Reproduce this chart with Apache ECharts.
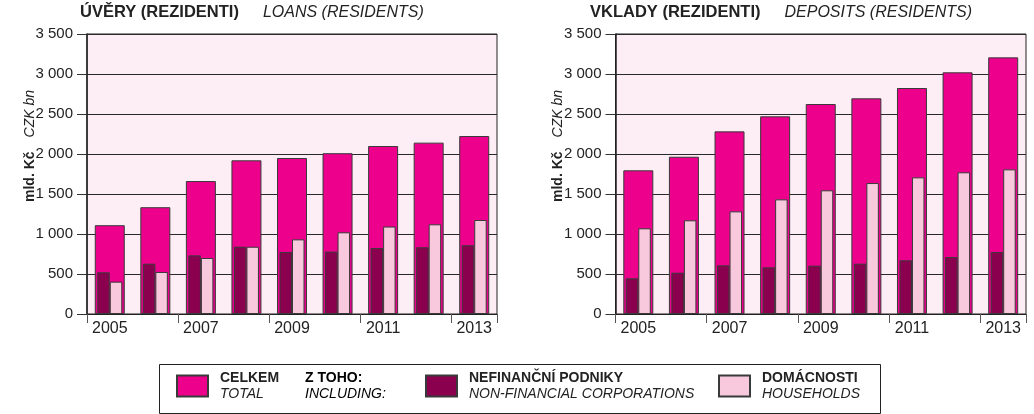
<!DOCTYPE html>
<html>
<head>
<meta charset="utf-8">
<script src="https://cdn.jsdelivr.net/npm/echarts@6/dist/echarts.min.js"></script>
<style>
html,body{margin:0;padding:0;background:#fff;}
#c{width:1034px;height:414px;}
</style>
</head>
<body>
<div id="c"></div>
<script>
const years = ['2005','2006','2007','2008','2009','2010','2011','2012','2013'];
const yTicks = [0, 500, 1000, 1500, 2000, 2500, 3000, 3500];

const loanTotal  = [1110, 1335, 1662, 1921, 1950, 2010, 2100, 2142, 2225];
const loanNonfin = [521, 629, 733, 841, 775, 780, 825, 834, 859];
const loanHouse  = [404, 525, 700, 841, 933, 1021, 1093, 1121, 1175];

const depTotal   = [1796, 1966, 2283, 2471, 2625, 2696, 2825, 3021, 3208];
const depNonfin  = [446, 516, 608, 583, 604, 629, 671, 712, 775];
const depHouse   = [1071, 1171, 1283, 1433, 1546, 1637, 1708, 1771, 1808];

const FONT = '"Liberation Sans", Arial, Helvetica, sans-serif';
const C_TOTAL = '#EC008C', C_NONFIN = '#8A004E', C_HOUSE = '#F8C8DC';
const BORDER = '#3a3a3a';
const names = { total: 'Celkem', nonfin: 'Nefinanční podniky', house: 'Domácnosti' };

const chart = echarts.init(document.getElementById('c'), null, {renderer: 'canvas'});

function grid(left, right) {
  return { left: left, right: right, top: 34, bottom: 100, show: true,
    backgroundColor: '#FDEDF4', borderColor: '#222', borderWidth: 1, containLabel: false };
}
function xMain(gi) {
  return { type: 'category', gridIndex: gi, data: years, boundaryGap: true,
    axisLine: { show: true, lineStyle: { color: '#222', width: 1 } },
    axisTick: { show: true, length: 9, lineStyle: { color: '#555' } },
    axisLabel: { interval: 1, color: '#222', fontFamily: FONT, fontSize: 16, margin: 7 } };
}
function xSub(gi) {
  return { type: 'category', gridIndex: gi, data: years, show: false };
}
function yAxis(gi) {
  return { type: 'value', gridIndex: gi, min: yTicks[0], max: yTicks[yTicks.length - 1], interval: 500,
    name: '{b|mld. Kč}{i|CZK bn}', nameLocation: 'middle', nameRotate: 90, nameGap: 50,
    nameMoveOverlap: false,
    nameTextStyle: { padding: [0, 0, 0, 56],
      rich: { b: { fontFamily: FONT, fontSize: 14, fontWeight: 'bold', color: '#222' },
              i: { fontFamily: FONT, fontSize: 14, fontStyle: 'italic', fontWeight: 'normal', color: '#222', padding: [0, 0, 0, 14] } } },
    axisLine: { show: true, lineStyle: { color: '#222', width: 1.5 } },
    axisTick: { show: true, length: 10, lineStyle: { color: '#333' } },
    axisLabel: { color: '#222', fontFamily: FONT, fontSize: 15, margin: 14,
      formatter: v => String(v).replace(/\B(?=(\d{3})+(?!\d))/g, ' ') },
    splitLine: { show: true, lineStyle: { color: '#2a2a2a', width: 1 } } };
}
function bars(xi, yi, tot, nf, hh) {
  return [
    { name: names.total, type: 'bar', xAxisIndex: xi, yAxisIndex: yi, data: tot, barWidth: 30,
      itemStyle: { color: C_TOTAL, borderColor: BORDER, borderWidth: 1 }, silent: true },
    { name: names.nonfin, type: 'bar', xAxisIndex: xi + 1, yAxisIndex: yi, data: nf, barWidth: 12.5, barGap: '0%',
      itemStyle: { color: C_NONFIN, borderColor: BORDER, borderWidth: 1 }, silent: true },
    { name: names.house, type: 'bar', xAxisIndex: xi + 1, yAxisIndex: yi, data: hh, barWidth: 12.5, barGap: '0%',
      itemStyle: { color: C_HOUSE, borderColor: BORDER, borderWidth: 1 }, silent: true }
  ];
}
const legendLabels = {
  'Celkem': '{b|CELKEM}\n{i|TOTAL}',
  'Nefinanční podniky': '{b|NEFINANČNÍ PODNIKY}\n{i|NON-FINANCIAL CORPORATIONS}',
  'Domácnosti': '{b|DOMÁCNOSTI}\n{i|HOUSEHOLDS}'
};
const legendRich = {
  b: { fontFamily: FONT, fontSize: 14, fontWeight: 'bold', color: '#222', lineHeight: 16 },
  i: { fontFamily: FONT, fontSize: 14, fontStyle: 'italic', fontWeight: 'normal', color: '#222', lineHeight: 16 }
};
function legend(name, left) {
  return { data: [name], left: left, top: 371, orient: 'horizontal', padding: 0,
    itemWidth: 31, itemHeight: 21, icon: 'rect', selectedMode: false,
    formatter: n => legendLabels[n],
    textStyle: { rich: legendRich, padding: [0, 0, 0, 7] } };
}
function title(bold, ital, left) {
  return { text: '{b|' + bold + '}{i|' + ital + '}', left: left, top: 4, padding: 0,
    textStyle: { fontWeight: 'normal', rich: {
      b: { fontFamily: FONT, fontSize: 16.5, fontWeight: 'bold', color: '#222' },
      i: { fontFamily: FONT, fontSize: 16, fontStyle: 'italic', fontWeight: 'normal', color: '#222', padding: [0, 0, 0, 24] } } } };
}

chart.setOption({
  animation: false,
  title: [ title('ÚVĚRY (REZIDENTI)', 'LOANS (RESIDENTS)', 80),
           title('VKLADY (REZIDENTI)', 'DEPOSITS (RESIDENTS)', 590) ],
  grid: [ grid(87, 537), grid(615.5, 8) ],
  xAxis: [ xMain(0), xSub(0), xMain(1), xSub(1) ],
  yAxis: [ yAxis(0), yAxis(1) ],
  legend: [ legend(names.total, 176), legend(names.nonfin, 425), legend(names.house, 718) ],
  graphic: [
    { type: 'rect', left: 157, top: 362, shape: { width: 721, height: 49 },
      style: { fill: 'none', stroke: '#222', lineWidth: 1 }, silent: true },
    { type: 'text', left: 305, top: 371, silent: true,
      style: { text: '{b|Z TOHO:}\n{i|INCLUDING:}', rich: legendRich } }
  ],
  series: [].concat(bars(0, 0, loanTotal, loanNonfin, loanHouse), bars(2, 1, depTotal, depNonfin, depHouse))
});
</script>
</body>
</html>
